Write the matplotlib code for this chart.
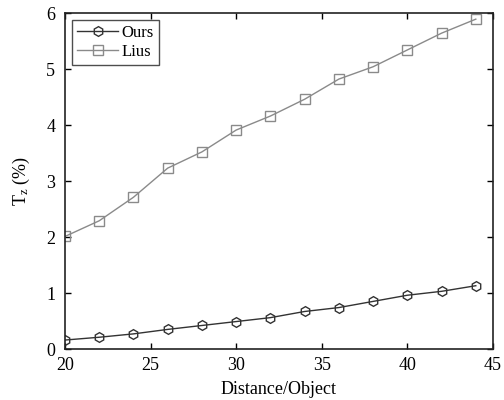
import matplotlib
matplotlib.use("Agg")
import matplotlib.pyplot as plt

distance = [20, 22, 24, 26, 28, 30, 32, 34, 36, 38, 40, 42, 44]
ours = [0.16, 0.21, 0.27, 0.35, 0.42, 0.49, 0.56, 0.67, 0.74, 0.85, 0.96, 1.03, 1.13]
lius = [2.01, 2.29, 2.71, 3.23, 3.52, 3.91, 4.16, 4.46, 4.82, 5.04, 5.34, 5.64, 5.89]

plt.rcParams['font.family'] = ['Liberation Serif', 'DejaVu Serif']
plt.rcParams['mathtext.fontset'] = 'custom'
plt.rcParams['mathtext.rm'] = 'Liberation Serif'
plt.rcParams['mathtext.it'] = 'Liberation Serif'

fig = plt.figure(figsize=(5.04, 4.0), dpi=100)
ax = fig.add_axes([0.129, 0.1275, 0.849, 0.84])

ax.plot(distance, ours, color='#333333', lw=1.0, marker='h', ms=7,
        mfc='none', mec='#333333', mew=1.0, label='Ours')
ax.plot(distance, lius, color='#8a8a8a', lw=1.0, marker='s', ms=7,
        mfc='none', mec='#8a8a8a', mew=1.0, label='Lius')

ax.set_xlim(20, 45)
ax.set_ylim(0, 6)
ax.set_xticks([20, 25, 30, 35, 40, 45])
ax.set_yticks([0, 1, 2, 3, 4, 5, 6])
ax.tick_params(direction='in', top=True, right=True, length=4, width=1,
               labelsize=13)
ax.tick_params(axis='x', pad=6)
ax.tick_params(axis='y', pad=7)
for s in ax.spines.values():
    s.set_linewidth(1.2)
    s.set_color('#222222')

ax.set_xlabel('Distance/Object', fontsize=13, labelpad=5)
ax.set_ylabel(r'T$_z$ (%)', fontsize=13, labelpad=10)

leg = ax.legend(loc='upper left', fontsize=12, frameon=True, fancybox=False,
                edgecolor='#222222', borderpad=0.3, handlelength=2.5,
                handletextpad=0.2, labelspacing=0.2, borderaxespad=0.4)
leg.get_frame().set_linewidth(1.0)

fig.savefig('out.png', dpi=100)
